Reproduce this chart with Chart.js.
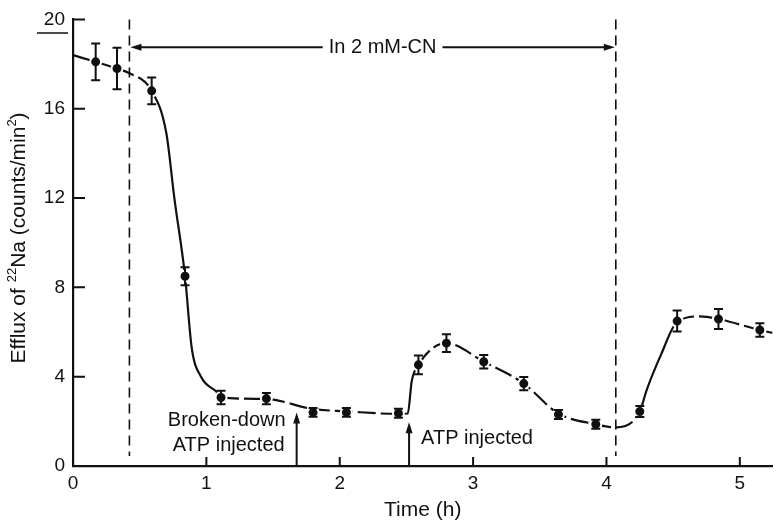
<!DOCTYPE html>
<html>
<head>
<meta charset="utf-8">
<script src="https://cdn.jsdelivr.net/npm/chart.js@4.4.0/dist/chart.umd.min.js"></script>
<style>
  body { margin: 0; background: #fff; }
  #wrap { width: 780px; height: 523px; }
</style>
</head>
<body>
<div id="wrap"><canvas id="myChart"></canvas></div>
<script>
// measured points: time (h) and 22Na efflux with error half-widths
var times = [0.17, 0.33, 0.59, 0.84, 1.11, 1.45, 1.80, 2.05, 2.44, 2.59, 2.80, 3.08, 3.38, 3.64, 3.92, 4.25, 4.53, 4.84, 5.15];
var efflux = [18.1, 17.8, 16.8, 8.5, 3.07, 3.02, 2.4, 2.4, 2.36, 4.53, 5.5, 4.67, 3.69, 2.31, 1.87, 2.44, 6.49, 6.58, 6.09];
var errors = [0.82, 0.93, 0.6, 0.4, 0.3, 0.25, 0.2, 0.2, 0.2, 0.42, 0.4, 0.3, 0.3, 0.2, 0.2, 0.25, 0.47, 0.45, 0.3];

// hand drawn curve
var curveT = [0, 0.17, 0.33, 0.42, 0.59, 0.70, 0.76, 0.84, 0.89, 0.96, 1.08, 1.11, 1.45, 1.80, 2.05, 2.44, 2.51, 2.54, 2.59, 2.80, 3.08, 3.38, 3.64, 3.92, 4.06, 4.25, 4.30, 4.41, 4.53, 4.70, 4.84, 5.15, 5.245];
var curveV = [18.4, 18.1, 17.8, 17.6, 16.8, 14.9, 12.0, 8.5, 5.3, 4.0, 3.3, 3.07, 3.0, 2.55, 2.45, 2.33, 2.35, 3.8, 4.53, 5.5, 4.67, 3.69, 2.35, 1.87, 1.73, 2.44, 3.38, 5.0, 6.45, 6.7, 6.58, 6.09, 5.96];

var xTicks = [0, 1, 2, 3, 4, 5];
var yTicks = [0, 4, 8, 12, 16, 20];

// annotation anchors (data units)
var cnStart = 0.423, cnEnd = 4.07, cnLevel = 18.75;
var brokenAt = 1.677, brokenTip = 2.4;
var atpAt = 2.52, atpTip = 1.96;

var fam = "'Liberation Sans', Arial, sans-serif";
var ink = '#111';
Chart.defaults.font.family = fam;
Chart.defaults.color = ink;

function arrow(ctx, x1, y1, x2, y2) {
    // line from (x1,y1) with filled head at (x2,y2)
    var a = Math.atan2(y2 - y1, x2 - x1);
    var len = 11, w = 3.5;
    ctx.beginPath();
    ctx.moveTo(x1, y1);
    ctx.lineTo(x2 - Math.cos(a) * len * 0.8, y2 - Math.sin(a) * len * 0.8);
    ctx.stroke();
    ctx.beginPath();
    ctx.moveTo(x2, y2);
    ctx.lineTo(x2 - Math.cos(a) * len - Math.sin(a) * w, y2 - Math.sin(a) * len + Math.cos(a) * w);
    ctx.lineTo(x2 - Math.cos(a) * len + Math.sin(a) * w, y2 - Math.sin(a) * len - Math.cos(a) * w);
    ctx.closePath();
    ctx.fill();
}

function drawYTitle(ctx, cx, cy) {
    var parts = [['Efflux of ', 21, 0], ['22', 13, -9], ['Na (counts/min', 21, 0], ['2', 13, -9], [')', 21, 0]];
    var total = 0;
    parts.forEach(function(p) {
        ctx.font = p[1] + 'px ' + fam;
        total += ctx.measureText(p[0]).width;
    });
    ctx.save();
    ctx.translate(cx, cy);
    ctx.rotate(-Math.PI / 2);
    ctx.textAlign = 'left';
    ctx.textBaseline = 'alphabetic';
    var x = -total / 2;
    parts.forEach(function(p) {
        ctx.font = p[1] + 'px ' + fam;
        ctx.fillText(p[0], x, 7 + p[2]);
        x += ctx.measureText(p[0]).width;
    });
    ctx.restore();
}

var extras = {
    id: 'extras',
    afterDatasetsDraw: function(chart) {
        // error bars
        var ctx = chart.ctx, xs = chart.scales.x, ys = chart.scales.y;
        ctx.save();
        ctx.strokeStyle = ink;
        ctx.lineWidth = 2;
        for (var i = 0; i < times.length; i++) {
            var px = xs.getPixelForValue(times[i]);
            var top = ys.getPixelForValue(efflux[i] + errors[i]);
            var bot = ys.getPixelForValue(efflux[i] - errors[i]);
            ctx.beginPath();
            ctx.moveTo(px, top); ctx.lineTo(px, bot);
            ctx.moveTo(px - 4.5, top); ctx.lineTo(px + 4.5, top);
            ctx.moveTo(px - 4.5, bot); ctx.lineTo(px + 4.5, bot);
            ctx.stroke();
        }
        ctx.restore();
    },
    afterDraw: function(chart) {
        var ctx = chart.ctx, xs = chart.scales.x, ys = chart.scales.y;
        var area = chart.chartArea;
        ctx.save();
        ctx.strokeStyle = ink;
        ctx.fillStyle = ink;

        // inward tick marks
        ctx.lineWidth = 2;
        ctx.beginPath();
        yTicks.forEach(function(v) {
            var py = ys.getPixelForValue(v);
            if (v === 0) return;
            ctx.moveTo(area.left, py); ctx.lineTo(area.left + 12, py);
        });
        xTicks.forEach(function(v) {
            if (v === 0) return;
            var px = xs.getPixelForValue(v);
            ctx.moveTo(px, area.bottom); ctx.lineTo(px, area.bottom - 9);
        });
        ctx.stroke();

        // little rule under the "20"
        ctx.lineWidth = 1.5;
        ctx.beginPath();
        ctx.moveTo(37, 33); ctx.lineTo(68, 33);
        ctx.stroke();

        // cyanide period boundaries
        var x1 = xs.getPixelForValue(cnStart), x2 = xs.getPixelForValue(cnEnd);
        ctx.lineWidth = 1.6;
        ctx.setLineDash([10, 6]);
        ctx.beginPath();
        ctx.moveTo(x1, area.top); ctx.lineTo(x1, area.bottom - 10);
        ctx.moveTo(x2, area.top); ctx.lineTo(x2, area.bottom - 10);
        ctx.stroke();
        ctx.setLineDash([]);

        // double arrow with label
        var ay = ys.getPixelForValue(cnLevel);
        ctx.font = '20px ' + fam;
        ctx.textAlign = 'center';
        ctx.textBaseline = 'middle';
        var label = 'In 2 mM-CN';
        var cx = (x1 + x2) / 2 + 10;
        var half = ctx.measureText(label).width / 2;
        ctx.fillText(label, cx, ay);
        ctx.lineWidth = 2;
        arrow(ctx, cx - half - 6, ay, x1 + 1, ay);
        arrow(ctx, cx + half + 6, ay, x2 - 1, ay);

        // injection arrows
        var bx = xs.getPixelForValue(brokenAt);
        arrow(ctx, bx, area.bottom, bx, ys.getPixelForValue(brokenTip));
        var tx = xs.getPixelForValue(atpAt);
        arrow(ctx, tx, area.bottom, tx, ys.getPixelForValue(atpTip));

        ctx.textAlign = 'right';
        ctx.fillText('Broken-down', bx - 11, 420);
        ctx.fillText('ATP injected', bx - 12, 445);
        ctx.textAlign = 'left';
        ctx.fillText('ATP injected', tx + 12, 438);

        drawYTitle(ctx, 18, 238);
        ctx.restore();
    }
};

var ctx = document.getElementById('myChart').getContext('2d');
var myChart = new Chart(ctx, {
    type: 'scatter',
    data: {
        datasets: [{
            label: 'Efflux',
            data: times.map(function(t, i) { return {x: t, y: efflux[i]}; }),
            showLine: false,
            pointRadius: 5.5,
            pointBackgroundColor: ink,
            pointBorderColor: '#fff',
            pointBorderWidth: 2,
            order: 0
        }, {
            label: 'Curve',
            data: curveT.map(function(t, i) { return {x: t, y: curveV[i]}; }),
            showLine: true,
            pointRadius: 0,
            borderColor: ink,
            borderWidth: 2.2,
            cubicInterpolationMode: 'monotone',
            segment: {
                borderDash: function(c) {
                    var t = c.p0.parsed.x;
                    var solid = (t >= 0.58 && t < 1.1) || (t >= 2.43 && t < 2.58) || (t >= 4.24 && t < 4.52);
                    return solid ? [] : [18, 5];
                }
            },
            order: 1
        }]
    },
    options: {
        responsive: true,
        maintainAspectRatio: false,
        animation: false,
        layout: { padding: { top: 16, left: 0, right: 0, bottom: 0 } },
        plugins: { legend: { display: false }, tooltip: { enabled: false } },
        scales: {
            x: {
                type: 'linear',
                min: 0,
                max: 5.245,
                afterBuildTicks: function(s) { s.ticks = xTicks.map(function(v) { return {value: v}; }); },
                afterFit: function(s) { s.height = 57; },
                grid: { display: false, drawTicks: false },
                border: { color: ink, width: 2.2 },
                ticks: { font: { size: 19 }, color: ink, padding: 6, maxRotation: 0 },
                title: { display: true, text: 'Time (h)', font: { size: 21 }, color: ink, padding: { top: 0, bottom: 0 } }
            },
            y: {
                min: 0,
                max: 20,
                afterBuildTicks: function(s) { s.ticks = yTicks.map(function(v) { return {value: v}; }); },
                afterFit: function(s) { s.width = 73; },
                grid: { display: false, drawTicks: false },
                border: { color: ink, width: 2.2 },
                ticks: { font: { size: 19 }, color: ink, padding: 8 }
            }
        }
    },
    plugins: [extras]
});
</script>
</body>
</html>
